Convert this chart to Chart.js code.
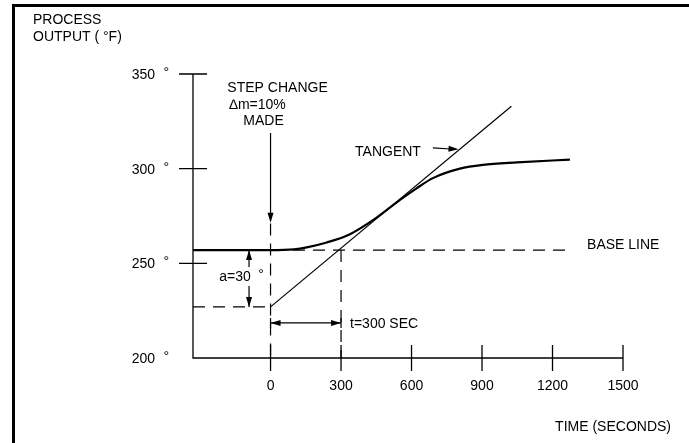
<!DOCTYPE html>
<html>
<head>
<meta charset="utf-8">
<script src="https://cdn.jsdelivr.net/npm/chart.js@4"></script>
<style>
  html, body { margin: 0; padding: 0; background: #fff; }
  canvas { display: block; }
</style>
</head>
<body>
<canvas id="chart" width="689" height="443"></canvas>
<script>
// process reaction curve
const timeValues = [-330, 0, 100, 154, 239, 338, 450, 551, 620, 691, 806, 904, 1049, 1274];
const outputValues = [257, 257, 257.4, 258.4, 261, 265.4, 274, 283.5, 289.5, 295, 300, 302, 303.3, 304.8];

// tangent through the inflection point
const tangentTime = [0, 1025];
const tangentOutput = [227, 333];

const baseLine = 257;
const stepLow = 227;
const baseLineEnd = 1262;
const deadTime = 300;

const xTicks = [0, 300, 600, 900, 1200, 1500];
const xLabels = ['0', '300', '600', '900', '1200', '1500'];
const yTicks = [200, 250, 300, 350];
const yLabels = ['200', '250', '300', '350'];

const FONT = '"Liberation Sans", Arial, sans-serif';

function pts(xs, ys) {
    return xs.map((x, i) => ({ x: x, y: ys[i] }));
}

function arrowHead(ctx, x, y, dx, dy) {
    // filled triangle with tip at (x, y) pointing along (dx, dy)
    const len = 10, half = 3;
    const n = Math.hypot(dx, dy);
    const ux = dx / n, uy = dy / n;
    ctx.beginPath();
    ctx.moveTo(x, y);
    ctx.lineTo(x - ux * len - uy * half, y - uy * len + ux * half);
    ctx.lineTo(x - ux * len + uy * half, y - uy * len - ux * half);
    ctx.closePath();
    ctx.fill();
}

const drawingPlugin = {
    id: 'drawing',
    afterDatasetsDraw(chart) {
        const ctx = chart.ctx;
        const xs = chart.scales.x, ys = chart.scales.y;
        const X = v => xs.getPixelForValue(v);
        const Y = v => ys.getPixelForValue(v);
        const left = chart.chartArea.left;

        ctx.save();
        ctx.strokeStyle = '#000';
        ctx.fillStyle = '#000';

        // border of the sheet (left and top only)
        ctx.lineWidth = 3;
        ctx.beginPath();
        ctx.moveTo(13.5, 443);
        ctx.lineTo(13.5, 5.5);
        ctx.lineTo(689, 5.5);
        ctx.stroke();

        // axes
        ctx.lineWidth = 1.3;
        ctx.beginPath();
        ctx.moveTo(left, Y(350));
        ctx.lineTo(left, Y(200));
        ctx.lineTo(X(1500), Y(200));
        ctx.stroke();

        // ticks cross the axes
        ctx.beginPath();
        yTicks.slice(1).forEach(v => {
            ctx.moveTo(left - 14, Y(v));
            ctx.lineTo(left + 14, Y(v));
        });
        xTicks.forEach(v => {
            ctx.moveTo(X(v), Y(200) - 13);
            ctx.lineTo(X(v), Y(200) + 13);
        });
        ctx.stroke();

        // tick labels
        ctx.font = '14px ' + FONT;
        ctx.textBaseline = 'middle';
        ctx.textAlign = 'right';
        yTicks.forEach((v, i) => {
            ctx.fillText(yLabels[i], left - 38, Y(v) + 1);
            ctx.fillText('°', left - 24, Y(v) - 1);
        });
        ctx.textAlign = 'center';
        xTicks.forEach((v, i) => {
            ctx.fillText(xLabels[i], X(v), Y(200) + 28);
        });

        // axis titles
        ctx.textAlign = 'left';
        ctx.fillText('PROCESS', 33, 20);
        ctx.fillText('OUTPUT ( °F)', 33, 37);
        ctx.textAlign = 'right';
        ctx.fillText('TIME (SECONDS)', 671, 427);

        // step change note and arrow
        ctx.textAlign = 'center';
        ctx.fillText('STEP CHANGE', X(0) + 7, 88);
        ctx.fillText('\u2206m=10%', X(0) - 13, 105);
        ctx.fillText('MADE', X(0) - 7, 121);
        ctx.lineWidth = 1.2;
        ctx.beginPath();
        ctx.moveTo(X(0), 133);
        ctx.lineTo(X(0), Y(271.5) - 8);
        ctx.stroke();
        arrowHead(ctx, X(0), Y(271.5), 0, 1);

        // a = 30 dimension
        const ax = X(-91.5);
        ctx.beginPath();
        ctx.moveTo(ax, Y(baseLine));
        ctx.lineTo(ax, Y(248));
        ctx.moveTo(ax, Y(238));
        ctx.lineTo(ax, Y(stepLow));
        ctx.stroke();
        arrowHead(ctx, ax, Y(baseLine), 0, -1);
        arrowHead(ctx, ax, Y(stepLow), 0, 1);
        ctx.fillText('a=30', ax - 14, Y(243) + 1);
        ctx.fillText('°', ax + 12, Y(243) - 1);

        // dead time dimension
        const ty = Y(218.5);
        ctx.beginPath();
        ctx.moveTo(X(0), ty);
        ctx.lineTo(X(deadTime), ty);
        ctx.moveTo(X(0), ty - 5);
        ctx.lineTo(X(0), ty + 5);
        ctx.moveTo(X(deadTime), ty - 5);
        ctx.lineTo(X(deadTime), ty + 5);
        ctx.stroke();
        arrowHead(ctx, X(0), ty, -1, 0);
        arrowHead(ctx, X(deadTime), ty, 1, 0);
        ctx.textAlign = 'left';
        ctx.fillText('t=300 SEC', X(deadTime) + 9, ty + 1);

        // tangent label
        ctx.textAlign = 'right';
        ctx.fillText('TANGENT', X(691) - 12, Y(308.5));
        ctx.beginPath();
        ctx.moveTo(X(691), Y(311));
        ctx.lineTo(X(800) - 8, Y(310.4));
        ctx.stroke();
        arrowHead(ctx, X(800), Y(310.3), 1, 0.05);

        // base line label
        ctx.textAlign = 'left';
        ctx.fillText('BASE LINE', X(1262) + 20, Y(baseLine) - 5);

        ctx.restore();
    }
};

const dashed = [12, 8];

new Chart(document.getElementById('chart'), {
    type: 'scatter',
    data: {
        datasets: [
            {
                label: 'Process output',
                data: pts(timeValues, outputValues),
                showLine: true,
                borderColor: '#000',
                borderWidth: 2.2,
                cubicInterpolationMode: 'monotone',
                pointRadius: 0
            },
            {
                label: 'Tangent',
                data: pts(tangentTime, tangentOutput),
                showLine: true,
                borderColor: '#000',
                borderWidth: 1.2,
                pointRadius: 0
            },
            {
                label: 'Base line',
                data: pts([-330, baseLineEnd], [baseLine, baseLine]),
                showLine: true,
                borderColor: '#000',
                borderWidth: 1.2,
                borderDash: dashed,
                pointRadius: 0
            },
            {
                label: 'Step low',
                data: pts([-330, 0], [stepLow, stepLow]),
                showLine: true,
                borderColor: '#000',
                borderWidth: 1.2,
                borderDash: dashed,
                pointRadius: 0
            },
            {
                label: 'Step time',
                data: pts([0, 0], [271, 200]),
                showLine: true,
                borderColor: '#000',
                borderWidth: 1.2,
                borderDash: dashed,
                pointRadius: 0
            },
            {
                label: 'Dead time',
                data: pts([deadTime, deadTime], [baseLine, 200]),
                showLine: true,
                borderColor: '#000',
                borderWidth: 1.2,
                borderDash: dashed,
                pointRadius: 0
            }
        ]
    },
    options: {
        responsive: false,
        animation: false,
        layout: { padding: { left: 193, right: 66, top: 74, bottom: 85 } },
        plugins: {
            legend: { display: false },
            tooltip: { enabled: false }
        },
        scales: {
            x: { type: 'linear', min: -330, max: 1500, display: false },
            y: { type: 'linear', min: 200, max: 350, display: false }
        }
    },
    plugins: [drawingPlugin]
});
</script>
</body>
</html>
